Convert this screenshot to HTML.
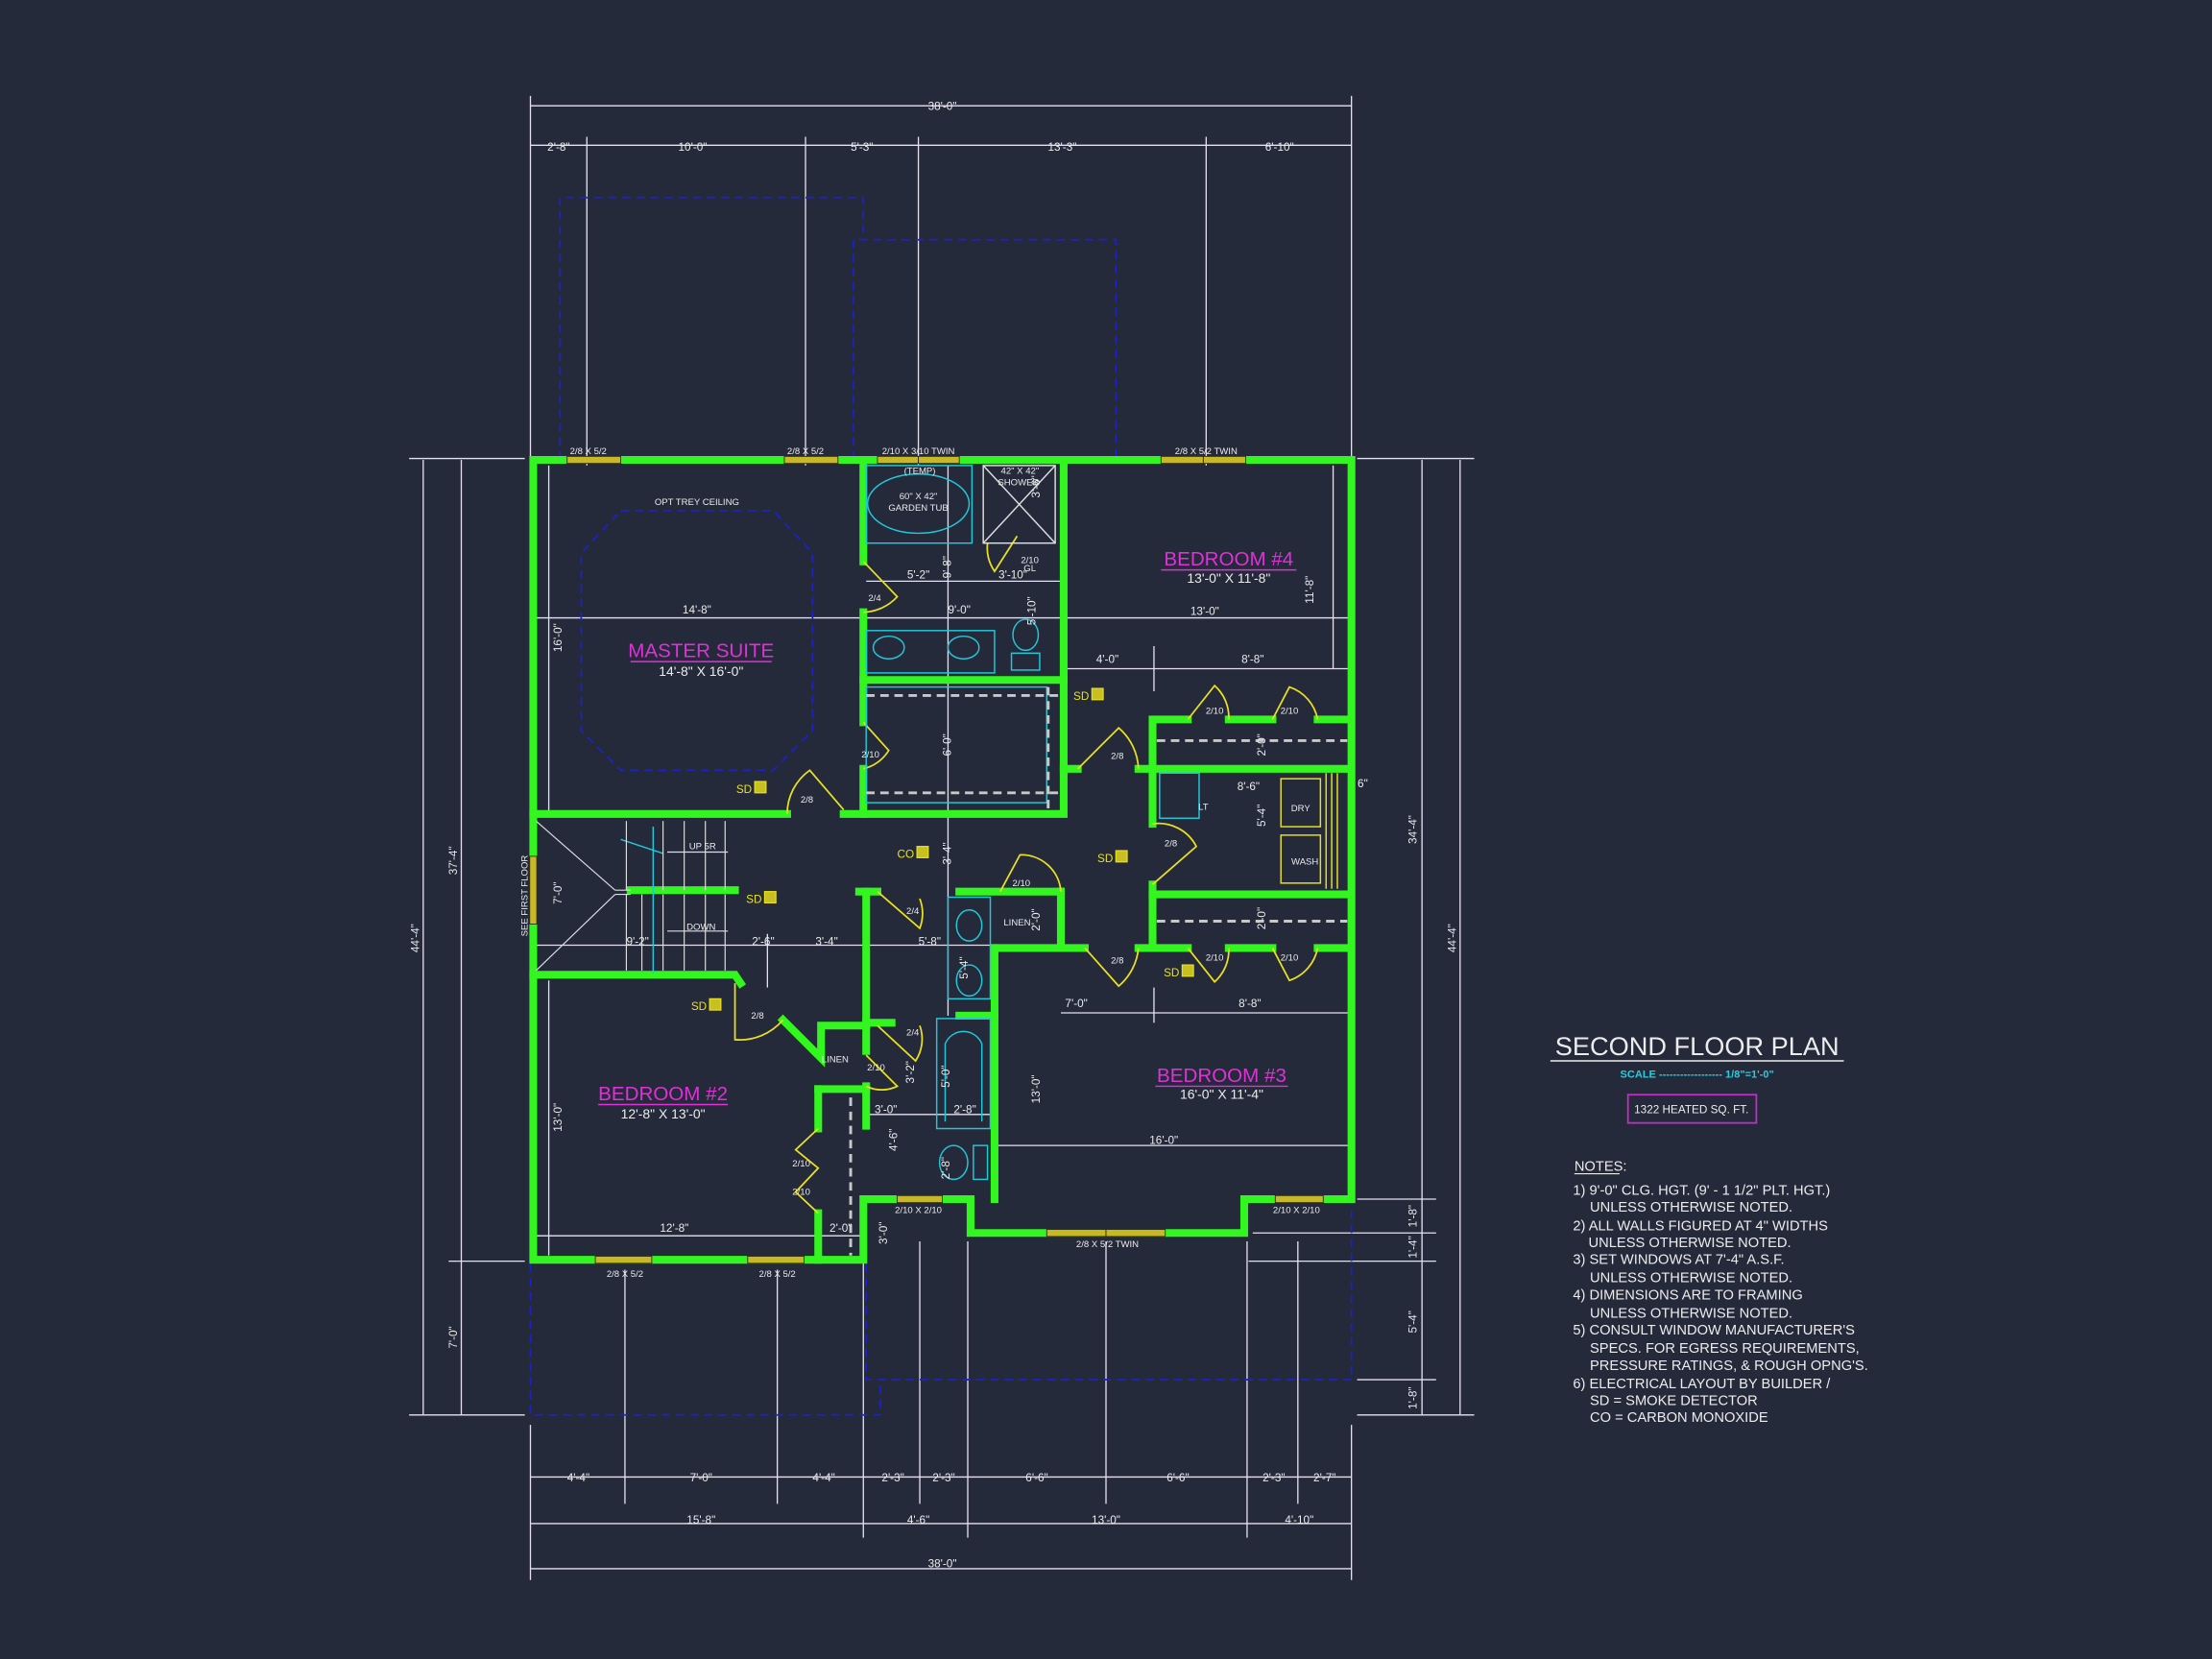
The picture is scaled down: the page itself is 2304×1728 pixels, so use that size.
<!DOCTYPE html>
<html><head><meta charset="utf-8"><style>
html,body{margin:0;padding:0;background:#252a3b;}
svg{display:block;}
text{font-family:"Liberation Sans Narrow","Liberation Sans",sans-serif;}
</style></head><body>
<svg width="2304" height="1728" viewBox="0 0 1568 1176" xmlns="http://www.w3.org/2000/svg">
<rect width="1568" height="1176" fill="#252a3b"/>

<g stroke="#e6e0ee" stroke-width="0.9" fill="none">
<line x1="376" y1="75" x2="958" y2="75"/>
<line x1="376" y1="68" x2="376" y2="326"/><line x1="958" y1="68" x2="958" y2="326"/>
<line x1="376" y1="103" x2="958" y2="103"/>
<line x1="416" y1="97" x2="416" y2="330"/><line x1="571" y1="97" x2="571" y2="330"/>
<line x1="651" y1="97" x2="651" y2="330"/><line x1="855" y1="97" x2="855" y2="330"/>
<line x1="300" y1="326" x2="300" y2="1003"/><line x1="327" y1="326" x2="327" y2="1003"/>
<line x1="290" y1="325" x2="372" y2="325"/><line x1="318" y1="894" x2="372" y2="894"/><line x1="290" y1="1003" x2="372" y2="1003"/>
<line x1="1035" y1="326" x2="1035" y2="1003"/><line x1="1008" y1="326" x2="1008" y2="1003"/>
<line x1="962" y1="325" x2="1045" y2="325"/><line x1="962" y1="850" x2="1018" y2="850"/>
<line x1="888" y1="874" x2="1018" y2="874"/><line x1="885" y1="894" x2="1018" y2="894"/>
<line x1="962" y1="978" x2="1018" y2="978"/><line x1="962" y1="1003" x2="1045" y2="1003"/>
<line x1="376" y1="1047" x2="958" y2="1047"/><line x1="376" y1="1080" x2="958" y2="1080"/><line x1="376" y1="1112" x2="958" y2="1112"/>
<line x1="376" y1="1010" x2="376" y2="1120"/><line x1="958" y1="1010" x2="958" y2="1120"/>
<line x1="443" y1="900" x2="443" y2="1066"/><line x1="551" y1="900" x2="551" y2="1066"/>
<line x1="612" y1="890" x2="612" y2="1090"/><line x1="652" y1="880" x2="652" y2="1066"/>
<line x1="686" y1="880" x2="686" y2="1090"/><line x1="784" y1="880" x2="784" y2="1066"/>
<line x1="884" y1="880" x2="884" y2="1090"/><line x1="920" y1="880" x2="920" y2="1066"/>
<line x1="378" y1="438" x2="958" y2="438"/>
<line x1="752" y1="474" x2="958" y2="474"/><line x1="752" y1="718" x2="958" y2="718"/>
<line x1="378" y1="670" x2="612" y2="670"/><line x1="612" y1="670" x2="705" y2="670"/>
<line x1="705" y1="812" x2="958" y2="812"/><line x1="378" y1="876" x2="612" y2="876"/>
<line x1="614" y1="412" x2="752" y2="412"/>
<line x1="672" y1="330" x2="672" y2="577"/><line x1="672" y1="577" x2="672" y2="720"/>
<line x1="945" y1="330" x2="945" y2="474"/><line x1="389" y1="330" x2="389" y2="577"/>
<line x1="389" y1="695" x2="389" y2="890"/><line x1="818" y1="458" x2="818" y2="490"/>
<line x1="818" y1="700" x2="818" y2="725"/><line x1="544" y1="662" x2="544" y2="700"/>
<line x1="614" y1="790" x2="705" y2="790"/>
</g>

<g stroke="#1a22c8" stroke-width="1.2" fill="none" stroke-dasharray="6,4">
<polyline points="397,326 397,140 612,140 612,170"/>
<polyline points="605,326 605,170 791,170 791,326"/>
<polyline points="376,896 376,1003 624,1003 624,978"/>
<polyline points="614,896 614,978 958,978 958,852"/>
<polygon points="440,362 548,362 576,392 576,518 548,546 440,546 412,518 412,392"/>
</g>

<g stroke="#33f51f" stroke-width="5.5" fill="none" stroke-linejoin="miter" stroke-linecap="square">
<polyline points="378,326 958,326 958,850 882,850 882,874 688,874 688,850 612,850 612,893 378,893 378,326"/>
<polyline points="705,850 705,672"/>
<polyline points="378,577 558,577"/><polyline points="598,577 754,577 754,545 764,545"/>
<polyline points="612,326 612,398"/><polyline points="612,434 612,512"/><polyline points="612,545 612,577"/>
<polyline points="754,326 754,545"/>
<polyline points="612,482 754,482"/>
<polyline points="807,545 955,545"/>
<polyline points="817,545 817,510 842,510"/><polyline points="871,510 902,510"/><polyline points="934,510 955,510"/>
<polyline points="817,545 817,584"/><polyline points="817,627 817,672"/>
<polyline points="817,634 955,634"/>
<polyline points="807,672 842,672"/><polyline points="871,672 902,672"/><polyline points="934,672 955,672"/>
<polyline points="705,672 769,672"/>
<polyline points="752,632 752,672"/><polyline points="680,632 752,632"/><polyline points="609,632 622,632"/>
<polyline points="614,632 614,725"/><polyline points="614,725 632,725"/>
<polyline points="447,631 521,631"/>
<polyline points="378,691 521,691 525,697"/>
<polyline points="555,723 582,750 582,727 614,727"/>
<polyline points="580,772 614,772"/><polyline points="580,772 580,800"/><polyline points="580,860 580,893"/>
<polyline points="614,770 614,798"/><polyline points="614,727 614,745"/>
<polyline points="680,720 705,720"/>
</g>

<g fill="#c8b828" stroke="#2a2a10" stroke-width="0.6">
<rect x="402" y="323.5" width="38" height="5"/><rect x="556" y="323.5" width="38" height="5"/>
<rect x="622" y="323.5" width="29" height="5"/><rect x="651" y="323.5" width="29" height="5"/>
<rect x="823" y="323.5" width="30" height="5"/><rect x="853" y="323.5" width="30" height="5"/>
<rect x="422" y="890.5" width="40" height="5"/><rect x="530" y="890.5" width="40" height="5"/>
<rect x="636" y="847.5" width="32" height="5"/><rect x="904" y="847.5" width="34" height="5"/>
<rect x="742" y="871.5" width="42" height="5"/><rect x="784" y="871.5" width="42" height="5"/>
<rect x="375.5" y="607" width="5" height="48"/>
</g>

<g stroke="#e8e020" stroke-width="1.2" fill="none">
<path d="M612,398 L636,423 A34,34 0 0 1 612,434"/>
<path d="M612,512 L630,532 A30,30 0 0 1 612,545"/>
<path d="M558,577 A38,38 0 0 1 574,546 L598,574"/>
<path d="M764,545 L793,516 A40,40 0 0 1 807,545"/>
<path d="M842,510 L861,486 A30,30 0 0 1 871,510"/>
<path d="M902,510 L914,487 A30,30 0 0 1 934,510"/>
<path d="M817,584 A30,30 0 0 1 848,600 L817,627"/>
<path d="M842,672 L861,696 A30,30 0 0 0 871,672"/>
<path d="M902,672 L914,695 A30,30 0 0 0 934,672"/>
<path d="M769,672 L793,699 A40,40 0 0 0 807,672"/>
<path d="M709,632 L723,606 A28,28 0 0 1 752,632"/>
<path d="M622,632 L652,658 A30,30 0 0 0 652,637"/>
<path d="M521,697 L521,737 A40,40 0 0 0 555,723"/>
<path d="M614,748 L636,770 A25,25 0 0 1 614,770"/>
<path d="M622,727 L649,752 A28,28 0 0 0 652,727"/>
<path d="M580,800 L564,815 L580,828 L564,845 L580,860"/>
<path d="M721,380 L705,405 A30,30 0 0 1 700,385"/>
</g>

<g stroke="#20c8d8" stroke-width="1" fill="none">
<rect x="614" y="330" width="75" height="55"/>
<ellipse cx="651" cy="357" rx="36" ry="21"/>
<rect x="697" y="330" width="51" height="55" stroke="#dddddd"/>
<line x1="697" y1="330" x2="748" y2="385" stroke="#dddddd"/><line x1="748" y1="330" x2="697" y2="385" stroke="#dddddd"/>
<rect x="614" y="447" width="91" height="30"/>
<ellipse cx="630" cy="459" rx="11" ry="8"/><ellipse cx="683" cy="459" rx="11" ry="8"/>
<ellipse cx="727" cy="450" rx="9" ry="11"/><rect x="717" y="463" width="20" height="12"/>
<rect x="614" y="487" width="128" height="82"/>
<rect x="822" y="548" width="28" height="32"/>
<rect x="672" y="636" width="30" height="72"/>
<ellipse cx="687" cy="656" rx="9" ry="11"/><ellipse cx="687" cy="695" rx="9" ry="11"/>
<rect x="664" y="722" width="38" height="78"/>
<path d="M670,795 L670,740 A14,14 0 0 1 696,740 L696,795"/>
<ellipse cx="676" cy="824" rx="10" ry="12"/><rect x="690" y="812" width="10" height="24"/>
<line x1="463" y1="586" x2="463" y2="690"/><line x1="440" y1="595" x2="470" y2="605"/>
</g>
<g stroke="#e8e020" stroke-width="1" fill="none">
<rect x="908" y="552" width="28" height="34"/><rect x="908" y="592" width="28" height="34"/>
<line x1="940" y1="548" x2="940" y2="630"/><line x1="944" y1="548" x2="944" y2="630"/><line x1="948" y1="548" x2="948" y2="630"/>
</g>
<g stroke="#c8c8c8" stroke-width="2" fill="none" stroke-dasharray="6,4">
<line x1="614" y1="493" x2="752" y2="493"/><line x1="614" y1="562" x2="752" y2="562"/>
<line x1="743" y1="487" x2="743" y2="575"/>
<line x1="820" y1="525" x2="955" y2="525"/><line x1="820" y1="653" x2="955" y2="653"/>
<line x1="603" y1="778" x2="603" y2="890"/>
</g>

<g stroke="#dddddd" stroke-width="0.8" fill="none">
<line x1="380" y1="582" x2="436" y2="631"/><line x1="380" y1="688" x2="436" y2="634"/>
<line x1="436" y1="631" x2="447" y2="631"/><line x1="436" y1="634" x2="447" y2="634"/>
<line x1="444" y1="582" x2="444" y2="631"/><line x1="444" y1="634" x2="444" y2="688"/>
<line x1="455" y1="634" x2="455" y2="688"/><line x1="470" y1="634" x2="470" y2="688"/>
<line x1="485" y1="634" x2="485" y2="688"/><line x1="500" y1="634" x2="500" y2="688"/>
<line x1="514" y1="634" x2="514" y2="688"/>
<line x1="470" y1="582" x2="470" y2="631"/><line x1="485" y1="582" x2="485" y2="631"/>
<line x1="500" y1="582" x2="500" y2="631"/><line x1="514" y1="582" x2="514" y2="631"/>
<line x1="473" y1="604" x2="516" y2="604"/><line x1="473" y1="660" x2="516" y2="660"/>
</g>

<g fill="#c8c020" stroke="#e8e020" stroke-width="0.8">
<rect x="535" y="554" width="8" height="8"/><rect x="774" y="488" width="8" height="8"/>
<rect x="650" y="600" width="8" height="8"/><rect x="791" y="603" width="8" height="8"/>
<rect x="542" y="632" width="8" height="8"/><rect x="838" y="684" width="8" height="8"/>
<rect x="503" y="708" width="8" height="8"/>
</g>
<g font-size="8" fill="#e8e020" text-anchor="end">
<text x="533" y="562">SD</text><text x="772" y="496">SD</text><text x="648" y="608">CO</text>
<text x="789" y="611">SD</text><text x="540" y="640">SD</text><text x="836" y="692">SD</text><text x="501" y="716">SD</text>
</g>

<g font-size="8" fill="#ebebeb" text-anchor="middle">
<text x="668" y="78">38'-0"</text>
<text x="396" y="107">2'-8"</text><text x="491" y="107">10'-0"</text><text x="611" y="107">5'-3"</text>
<text x="753" y="107">13'-3"</text><text x="907" y="107">6'-10"</text>
<text x="668" y="1111">38'-0"</text>
<text x="410" y="1050">4'-4"</text><text x="497" y="1050">7'-0"</text><text x="584" y="1050">4'-4"</text>
<text x="633" y="1050">2'-3"</text><text x="669" y="1050">2'-3"</text><text x="735" y="1050">6'-6"</text>
<text x="835" y="1050">6'-6"</text><text x="903" y="1050">2'-3"</text><text x="939" y="1050">2'-7"</text>
<text x="497" y="1080">15'-8"</text><text x="651" y="1080">4'-6"</text><text x="784" y="1080">13'-0"</text><text x="921" y="1080">4'-10"</text>
<g font-size="6.5">
<text x="417" y="322">2/8 X 5/2</text><text x="571" y="322">2/8 X 5/2</text>
<text x="651" y="322">2/10 X 3/10 TWIN</text><text x="855" y="322">2/8 X 5/2 TWIN</text>
<text x="443" y="905">2/8 X 5/2</text><text x="551" y="905">2/8 X 5/2</text>
<text x="651" y="860">2/10 X 2/10</text><text x="785" y="884">2/8 X 5/2 TWIN</text><text x="919" y="860">2/10 X 2/10</text>
<text x="494" y="358">OPT TREY CEILING</text>
<text x="652" y="336">(TEMP)</text><text x="651" y="354">60" X 42"</text><text x="651" y="362">GARDEN TUB</text>
<text x="723" y="336">42" X 42"</text><text x="722" y="344">SHOWER</text>
<text x="730" y="399">2/10</text><text x="730" y="405">GL</text>
<text x="620" y="426">2/4</text><text x="617" y="537">2/10</text><text x="572" y="569">2/8</text>
<text x="861" y="506">2/10</text><text x="914" y="506">2/10</text><text x="792" y="538">2/8</text>
<text x="853" y="574">LT</text><text x="922" y="575">DRY</text><text x="925" y="613">WASH</text>
<text x="830" y="600">2/8</text><text x="647" y="648">2/4</text><text x="724" y="628">2/10</text>
<text x="721" y="656">LINEN</text><text x="792" y="683">2/8</text>
<text x="861" y="681">2/10</text><text x="914" y="681">2/10</text>
<text x="498" y="602">UP 5R</text><text x="497" y="659">DOWN</text>
<text x="537" y="722">2/8</text><text x="592" y="753">LINEN</text><text x="621" y="759">2/10</text><text x="647" y="734">2/4</text>
<text x="568" y="827">2/10</text><text x="568" y="847">2/10</text>
</g>
<text x="494" y="435">14'-8"</text><text x="497" y="479" font-size="9.5">14'-8" X 16'-0"</text>
<text x="651" y="410">5'-2"</text><text x="718" y="410">3'-10"</text><text x="680" y="435">9'-0"</text>
<text x="871" y="413" font-size="9.5">13'-0" X 11'-8"</text><text x="854" y="436">13'-0"</text>
<text x="785" y="470">4'-0"</text><text x="888" y="470">8'-8"</text><text x="885" y="560">8'-6"</text>
<text x="966" y="558">6"</text>
<text x="452" y="670">9'-2"</text><text x="541" y="670">2'-6"</text><text x="586" y="670">3'-4"</text>
<text x="659" y="670">5'-8"</text><text x="763" y="714">7'-0"</text><text x="886" y="714">8'-8"</text>
<text x="866" y="779" font-size="9.5">16'-0" X 11'-4"</text><text x="825" y="811">16'-0"</text>
<text x="470" y="793" font-size="9.5">12'-8" X 13'-0"</text><text x="478" y="873">12'-8"</text>
<text x="596" y="873">2'-0"</text><text x="628" y="789">3'-0"</text><text x="684" y="789">2'-8"</text>
</g>
<g font-size="8" fill="#ebebeb" text-anchor="middle">
<text transform="translate(297,665) rotate(-90)">44'-4"</text>
<text transform="translate(324,610) rotate(-90)">37'-4"</text>
<text transform="translate(324,948) rotate(-90)">7'-0"</text>
<text transform="translate(1032,665) rotate(-90)">44'-4"</text>
<text transform="translate(1004,588) rotate(-90)">34'-4"</text>
<text transform="translate(1004,862) rotate(-90)">1'-8"</text>
<text transform="translate(1004,884) rotate(-90)">1'-4"</text>
<text transform="translate(1004,937) rotate(-90)">5'-4"</text>
<text transform="translate(1004,991) rotate(-90)">1'-8"</text>
<text transform="translate(398,452) rotate(-90)">16'-0"</text>
<text transform="translate(398,633) rotate(-90)">7'-0"</text>
<text transform="translate(398,792) rotate(-90)">13'-0"</text>
<text transform="translate(674,528) rotate(-90)">6'-0"</text>
<text transform="translate(674,605) rotate(-90)">3'-4"</text>
<text transform="translate(674,402) rotate(-90)">9'-8"</text>
<text transform="translate(734,433) rotate(-90)">5'-10"</text>
<text transform="translate(737,345) rotate(-90)">3'-6"</text>
<text transform="translate(931,418) rotate(-90)">11'-8"</text>
<text transform="translate(897,528) rotate(-90)">2'-0"</text>
<text transform="translate(897,578) rotate(-90)">5'-4"</text>
<text transform="translate(897,651) rotate(-90)">2'-0"</text>
<text transform="translate(737,652) rotate(-90)">2'-0"</text>
<text transform="translate(686,686) rotate(-90)">5'-4"</text>
<text transform="translate(648,760) rotate(-90)">3'-2"</text>
<text transform="translate(673,763) rotate(-90)">5'-0"</text>
<text transform="translate(636,808) rotate(-90)">4'-6"</text>
<text transform="translate(673,828) rotate(-90)">2'-8"</text>
<text transform="translate(737,772) rotate(-90)">13'-0"</text>
<text transform="translate(629,874) rotate(-90)">3'-0"</text>
<text transform="translate(374,635) rotate(-90)" font-size="6.5">SEE FIRST FLOOR</text>
</g>

<g font-size="14" fill="#e030d8" text-anchor="middle">
<text x="497" y="466">MASTER SUITE</text>
<text x="871" y="401">BEDROOM #4</text>
<text x="866" y="767">BEDROOM #3</text>
<text x="470" y="780">BEDROOM #2</text>
</g>
<g stroke="#e030d8" stroke-width="1">
<line x1="447" y1="469" x2="547" y2="469"/><line x1="823" y1="404" x2="919" y2="404"/>
<line x1="819" y1="770" x2="913" y2="770"/><line x1="424" y1="783" x2="516" y2="783"/>
</g>

<text x="1203" y="748" font-size="18.5" fill="#ececec" text-anchor="middle">SECOND FLOOR PLAN</text>
<line x1="1099" y1="752" x2="1307" y2="752" stroke="#ececec" stroke-width="1"/>
<text x="1203" y="764" font-size="7.5" fill="#20d0e0" text-anchor="middle" font-weight="bold">SCALE ------------------ 1/8"=1'-0"</text>
<rect x="1154" y="776" width="91" height="20" fill="none" stroke="#c030c8" stroke-width="1.2"/>
<text x="1199" y="789" font-size="8" fill="#ececec" text-anchor="middle">1322 HEATED SQ. FT.</text>
<g font-size="10" fill="#ececec">
<text x="1116" y="830">NOTES:</text>
<text x="1115" y="847">1) 9'-0"  CLG. HGT. (9' - 1 1/2" PLT. HGT.)</text>
<text x="1127" y="859">UNLESS OTHERWISE NOTED.</text>
<text x="1115" y="872">2) ALL  WALLS FIGURED AT 4" WIDTHS</text>
<text x="1126" y="884">UNLESS OTHERWISE NOTED.</text>
<text x="1115" y="896">3) SET WINDOWS AT 7'-4" A.S.F.</text>
<text x="1127" y="909">UNLESS OTHERWISE NOTED.</text>
<text x="1115" y="921">4) DIMENSIONS ARE TO FRAMING</text>
<text x="1127" y="934">UNLESS OTHERWISE NOTED.</text>
<text x="1115" y="946">5) CONSULT WINDOW MANUFACTURER'S</text>
<text x="1127" y="959">SPECS. FOR EGRESS REQUIREMENTS,</text>
<text x="1127" y="971">PRESSURE RATINGS, &amp; ROUGH OPNG'S.</text>
<text x="1115" y="984">6) ELECTRICAL LAYOUT BY BUILDER /</text>
<text x="1127" y="996">SD = SMOKE DETECTOR</text>
<text x="1127" y="1008">CO = CARBON MONOXIDE</text>
</g>
<line x1="1116" y1="832" x2="1148" y2="832" stroke="#ececec" stroke-width="0.8"/>
</svg>
</body></html>
